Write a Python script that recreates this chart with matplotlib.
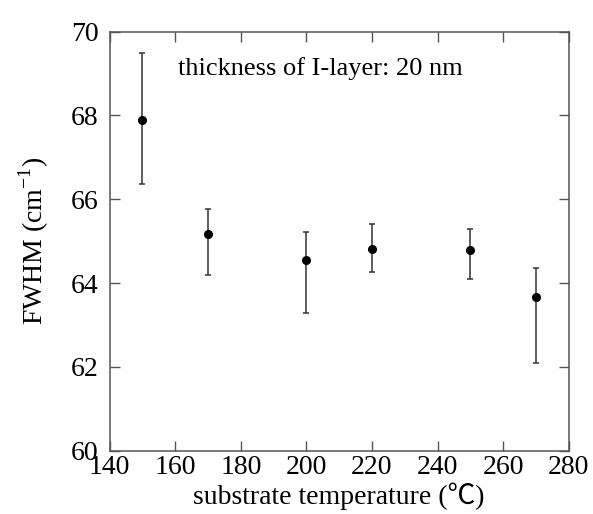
import numpy as np
import matplotlib.pyplot as plt

plt.rcParams["font.family"] = ["Liberation Serif", "Noto Sans CJK JP", "DejaVu Serif"]
plt.rcParams["mathtext.fontset"] = "custom"
plt.rcParams["mathtext.rm"] = "Liberation Serif"
plt.rcParams.update({'font.size': 20})

# substrate temperature and FWHM with asymmetric error bar ends
temp = [150, 170, 200, 220, 250, 270]
fwhm = [67.89, 65.16, 64.55, 64.81, 64.80, 63.67]
fwhm_hi = [69.48, 65.76, 65.21, 65.42, 65.28, 64.35]
fwhm_lo = [66.37, 64.19, 63.29, 64.27, 64.09, 62.09]

yerr = [np.array(fwhm) - np.array(fwhm_lo), np.array(fwhm_hi) - np.array(fwhm)]

fig = plt.figure(figsize=(5.93, 5.14), dpi=100)
ax = fig.add_axes([109.7 / 593, 1 - 450.7 / 514, 459 / 593, 419 / 514])

ax.errorbar(temp, fwhm, yerr=yerr, fmt='o', color='black', markersize=5.5,
            ecolor='#333333', elinewidth=1.1, capsize=2.5, capthick=1.1)

ax.set_xlim(140, 280)
ax.set_ylim(60, 70)
ax.set_xticks(np.arange(140, 281, 20))
ax.set_yticks(np.arange(60, 71, 2))
ax.tick_params(direction='in', length=7, width=1, top=True, right=True,
               color='#555555', pad=3)
ax.tick_params(axis='y', pad=8)
for s in ax.spines.values():
    s.set_color('#555555')
    s.set_linewidth(1.1)

ax.text(160.7, 69.13, 'thickness of I-layer: 20 nm', fontsize=19, va='center')

ax.set_xlabel('substrate temperature (\u2103)', labelpad=2)
ax.set_ylabel(r'FWHM (cm$^{\mathregular{-1}}$)', labelpad=14)

plt.savefig("out.png", dpi=100)
